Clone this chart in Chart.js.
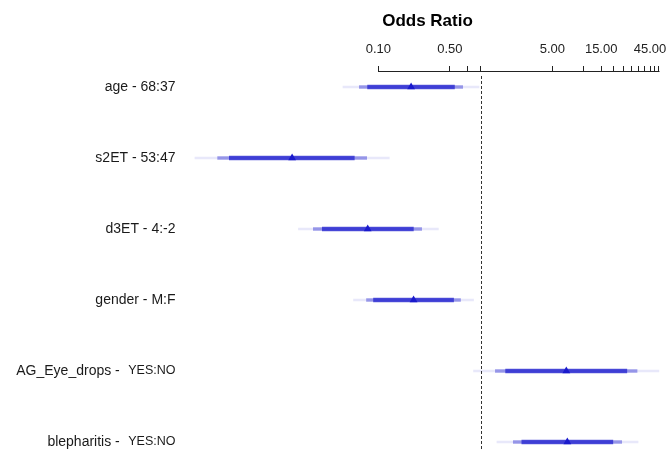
<!DOCTYPE html>
<html>
<head>
<meta charset="utf-8">
<script src="https://cdn.jsdelivr.net/npm/chart.js@4/dist/chart.umd.min.js"></script>
<style>
  html, body { margin: 0; padding: 0; background: #ffffff; }
  #wrap { width: 672px; height: 450px; }
</style>
</head>
<body>
<div id="wrap"><canvas id="c" width="672" height="450"></canvas></div>
<script>
// Effect summary: odds ratios with 0.90 / 0.95 / 0.99 confidence bands
const variables = ['age', 's2ET', 'd3ET', 'gender', 'AG_Eye_drops', 'blepharitis'];
const contrasts = ['68:37', '53:47', '4:-2', 'M:F', 'YES:NO', 'YES:NO'];
const oddsRatio = [0.209, 0.0144, 0.0788, 0.221, 6.85, 7.01];
const lower90 = [0.0786, 0.00351, 0.0284, 0.0898, 1.75, 2.52];
const upper90 = [0.554, 0.0583, 0.220, 0.543, 26.7, 19.5];
const lower95 = [0.0653, 0.00270, 0.0232, 0.0767, 1.39, 2.08];
const upper95 = [0.667, 0.0770, 0.265, 0.635, 33.6, 23.8];
const lower99 = [0.0452, 0.00162, 0.0166, 0.0573, 0.851, 1.44];
const upper99 = [0.963, 0.128, 0.386, 0.851, 54.9, 34.4];
const tickValues = [0.1, 0.5, 0.75, 1, 5, 10, 15, 20, 25, 30, 35, 40, 45, 50, 55];
const labeledTicks = [0.1, 0.5, 5, 15, 45];
const referenceOR = 1;

const FONT = '"Liberation Sans", Arial, Helvetica, sans-serif';
const X_MIN = 0.00145, X_MAX = 63;
const Y_MIN = -0.2113, Y_MAX = 5.1127;
const BLUE = [26, 26, 204];
const rgba = a => `rgba(${BLUE[0]},${BLUE[1]},${BLUE[2]},${a})`;

// rows whose level text is set in a smaller face
const splitLevelRows = new Set(['AG_Eye_drops', 'blepharitis']);

const bands = [
  { label: '0.99', lo: lower99, hi: upper99, alpha: 0.1, thickness: 2 },
  { label: '0.95', lo: lower95, hi: upper95, alpha: 0.4, thickness: 3 },
  { label: '0.90', lo: lower90, hi: upper90, alpha: 0.7, thickness: 4 }
];

const bandDatasets = bands.map(b => ({
  type: 'bar',
  indexAxis: 'y',
  label: b.label,
  data: variables.map((_, i) => ({ x: [b.lo[i], b.hi[i]], y: i })),
  backgroundColor: rgba(b.alpha),
  borderWidth: 0,
  barThickness: b.thickness,
  grouped: false,
  order: 1
}));

const pointDataset = {
  type: 'scatter',
  label: 'Odds Ratio',
  data: oddsRatio.map((v, i) => ({ x: v, y: i })),
  pointStyle: 'triangle',
  pointRadius: 4.5,
  backgroundColor: rgba(1),
  borderWidth: 0,
  order: 0
};

// axis baseline spanning the labelled tick range, and the OR = 1 reference line
const axisPlugin = {
  id: 'oddsAxis',
  afterDatasetsDraw(chart) {
    const { ctx, chartArea } = chart;
    const x = chart.scales.x;
    ctx.save();
    const xr = Math.round(x.getPixelForValue(referenceOR)) + 0.5;
    ctx.strokeStyle = '#333';
    ctx.lineWidth = 1;
    ctx.setLineDash([3, 2]);
    ctx.beginPath();
    ctx.moveTo(xr, chartArea.top + 4);
    ctx.lineTo(xr, chartArea.bottom);
    ctx.stroke();
    ctx.setLineDash([]);
    const x0 = Math.round(x.getPixelForValue(tickValues[0])) + 0.5;
    const x1 = Math.round(x.getPixelForValue(tickValues[tickValues.length - 1])) + 0.5;
    const y0 = chartArea.top - 0.5;
    ctx.strokeStyle = '#222';
    ctx.beginPath();
    ctx.moveTo(x0, y0);
    ctx.lineTo(x1, y0);
    ctx.stroke();
    ctx.restore();
  }
};

// row labels: "variable - contrast"
const rowLabelPlugin = {
  id: 'rowLabels',
  afterDraw(chart) {
    const { ctx } = chart;
    const y = chart.scales.y;
    const right = 175.5;
    ctx.save();
    ctx.fillStyle = '#1a1a1a';
    ctx.textBaseline = 'middle';
    ctx.textAlign = 'right';
    variables.forEach((name, i) => {
      const py = y.getPixelForValue(i);
      if (splitLevelRows.has(name)) {
        ctx.font = '12.5px ' + FONT;
        ctx.fillText(contrasts[i], right, py);
        const w = ctx.measureText(contrasts[i]).width;
        ctx.font = '14px ' + FONT;
        ctx.fillText(name + ' -', right - w - 8.5, py);
      } else {
        ctx.font = '14px ' + FONT;
        ctx.fillText(name + ' - ' + contrasts[i], right, py);
      }
    });
    ctx.restore();
  }
};

new Chart(document.getElementById('c'), {
  type: 'bar',
  data: { datasets: [...bandDatasets, pointDataset] },
  options: {
    indexAxis: 'y',
    responsive: false,
    animation: false,
    devicePixelRatio: 1,
    layout: { autoPadding: false, padding: { left: 190, right: 7, top: 0, bottom: 0 } },
    plugins: { legend: { display: false }, tooltip: { enabled: false } },
    scales: {
      x: {
        type: 'logarithmic',
        position: 'top',
        min: X_MIN,
        max: X_MAX,
        bounds: 'data',
        offset: false,
        afterBuildTicks: s => { s.ticks = tickValues.map(v => ({ value: v })); },
        afterFit: s => { s.height = 72; },
        ticks: {
          autoSkip: false,
          maxRotation: 0,
          padding: 9,
          color: '#222',
          font: { family: FONT, size: 13 },
          callback: v => (labeledTicks.includes(v) ? v.toFixed(2) : '')
        },
        grid: { offset: false, drawOnChartArea: false, drawTicks: true, tickLength: 6, color: '#222', lineWidth: 1 },
        border: { display: false },
        title: {
          display: true,
          text: 'Odds Ratio',
          color: '#000',
          font: { family: FONT, size: 17, weight: 'bold' },
          padding: { top: 11, bottom: 0 }
        }
      },
      y: {
        type: 'linear',
        reverse: true,
        min: Y_MIN,
        max: Y_MAX,
        offset: false,
        grid: { offset: false },
        display: false
      }
    }
  },
  plugins: [axisPlugin, rowLabelPlugin]
});
</script>
</body>
</html>
